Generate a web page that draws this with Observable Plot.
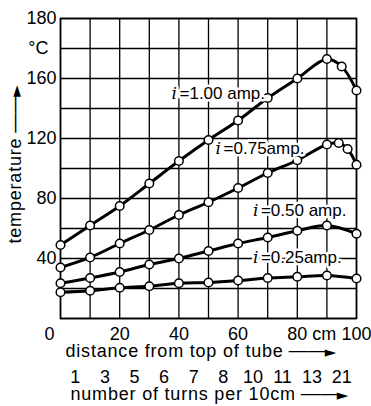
<!DOCTYPE html>
<html>
<head>
<meta charset="utf-8">
<script src="https://cdn.jsdelivr.net/npm/d3@7"></script>
<script src="https://cdn.jsdelivr.net/npm/@observablehq/plot@0.6"></script>
<style>
  html, body { margin: 0; padding: 0; background: #fff; }
</style>
</head>
<body>
<div id="chart"></div>
<script>
// distance from top of tube (cm) at which temperatures were measured
const x025 = [0, 10, 20, 30, 40, 50, 60, 70, 80, 90, 100];
const t025 = [17.5, 18.5, 20.5, 21.5, 23.5, 24, 25.3, 27, 27.8, 28.7, 26.7];
const x050 = [0, 10, 20, 30, 40, 50, 60, 70, 80, 90, 100];
const t050 = [23.5, 27, 31, 36, 40, 45, 50, 54, 58.5, 62, 56.5];
const x075 = [0, 10, 20, 30, 40, 50, 60, 70, 80, 90, 94, 97, 100];
const t075 = [34, 40.7, 50, 59, 69, 77.5, 87, 97, 105.5, 116, 117, 113, 102.5];
const x100 = [0, 10, 20, 30, 40, 50, 60, 70, 80, 90, 95, 100];
const t100 = [49, 62, 75, 90, 105, 119, 132, 147, 160, 173, 168, 152];

const seriesNames = ["0.25", "0.50", "0.75", "1.00"];
const seriesLabels = ["=0.25amp.", "=0.50 amp.", "=0.75amp.", "=1.00 amp."];
const labelX = [65, 65, 52.4, 37.5];
const labelT = [40.7, 72, 113, 150];

// axes
const xGrid = [0, 10, 20, 30, 40, 50, 60, 70, 80, 90, 100];
const yGrid = [0, 20, 40, 60, 80, 100, 120, 140, 160, 180, 200];
const xTicks = [20, 40, 60, 100];
const xTickLabels = ["20", "40", "60", "100"];
const yTicks = [40, 80, 120, 160, 200];
const yTickLabels = ["40", "80", "120", "160", "180"];
const unitTick = [180];
const unitLabel = ["°C"];
const turnsX = [5, 15, 25, 35, 45, 55, 65, 75, 85, 95];
const turns = ["1", "3", "5", "6", "7", "8", "10", "11", "13", "21"];
const xTitle = "distance from top of tube";
const x2Title = "number of turns per 10cm";
const yTitle = "temperature";

const xs = [x025, x050, x075, x100];
const ts = [t025, t050, t075, t100];
const rows = [];
seriesNames.forEach((s, k) => xs[k].forEach((x, j) => rows.push({series: s, x, t: ts[k][j]})));
const labels = seriesNames.map((s, k) => ({series: s, text: seriesLabels[k], x: labelX[k], t: labelT[k]}));

const halo = {stroke: "white", strokeWidth: 5, fill: "black"};

const chart = Plot.plot({
  width: 371,
  height: 406,
  marginLeft: 60,
  marginRight: 15,
  marginTop: 18,
  marginBottom: 88,
  x: {domain: [0, 100], axis: null},
  y: {domain: [0, 200], axis: null},
  style: {fontFamily: "'Liberation Sans', Arial, sans-serif", fontSize: "18px", color: "black", background: "white"},
  marks: [
    Plot.ruleX(xGrid, {x: d => d, stroke: "black", strokeWidth: 1.3}),
    Plot.ruleY(yGrid, {y: d => d, stroke: "black", strokeWidth: 1.3}),
    Plot.frame({stroke: "black", strokeWidth: 1.6}),
    Plot.line(rows, {x: "x", y: "t", z: "series", stroke: "black", strokeWidth: 3, curve: "catmull-rom"}),
    Plot.dot(rows, {x: "x", y: "t", r: 4.3, fill: "white", stroke: "black", strokeWidth: 1.5}),
    Plot.text(labels, {x: "x", y: "t", text: d => "i", textAnchor: "start", fontStyle: "italic", fontFamily: "'DejaVu Serif', serif", fontSize: 17, ...halo}),
    Plot.text(labels, {x: "x", y: "t", text: "text", textAnchor: "start", dx: 8, fontSize: 17, ...halo}),
    // y tick labels
    Plot.text(yTicks, {x: 0, y: d => d, text: (d, i) => yTickLabels[i], textAnchor: "end", dx: -4}),
    Plot.text(unitTick, {x: 0, y: d => d, text: (d, i) => unitLabel[i], textAnchor: "end", dx: -12}),
    // x tick labels
    Plot.text(xTicks, {x: d => d, y: 0, text: (d, i) => xTickLabels[i], dy: 16}),
    Plot.text([0], {x: d => d, y: 0, text: d => String(d), dx: -11, dy: 16}),
    Plot.text([80], {x: d => d, y: 0, text: d => d + " cm", textAnchor: "start", dx: -10, dy: 16}),
    Plot.text(turnsX, {x: d => d, y: 0, text: (d, i) => turns[i], dy: 59}),
    // axis titles
    Plot.text([xTitle], {frameAnchor: "bottom-left", text: d => d, textAnchor: "start", dx: 5, dy: 38, ariaDescription: "axis-title"}),
    Plot.text([x2Title], {frameAnchor: "bottom-left", text: d => d, textAnchor: "start", dx: 10, dy: 81, ariaDescription: "axis-title"}),
    Plot.text([yTitle], {frameAnchor: "left", text: d => d, textAnchor: "start", rotate: -90, dx: -45, dy: 75, ariaDescription: "axis-title"})
  ]
});
document.getElementById("chart").appendChild(chart);

// arrows after the axis titles
d3.select(chart).selectAll('g[aria-description="axis-title"] text').each(function () {
  const t = d3.select(this).style("letter-spacing", "0.8px");
  t.append("tspan").attr("dx", 5).style("letter-spacing", "0px").style("font-size", "20px").text("\u2014\u2014");
  t.append("tspan").attr("dx", -4).style("letter-spacing", "0px")
    .style("font-family", "'DejaVu Sans', sans-serif").style("font-size", "15px").text("\u25BA");
});
</script>
</body>
</html>
